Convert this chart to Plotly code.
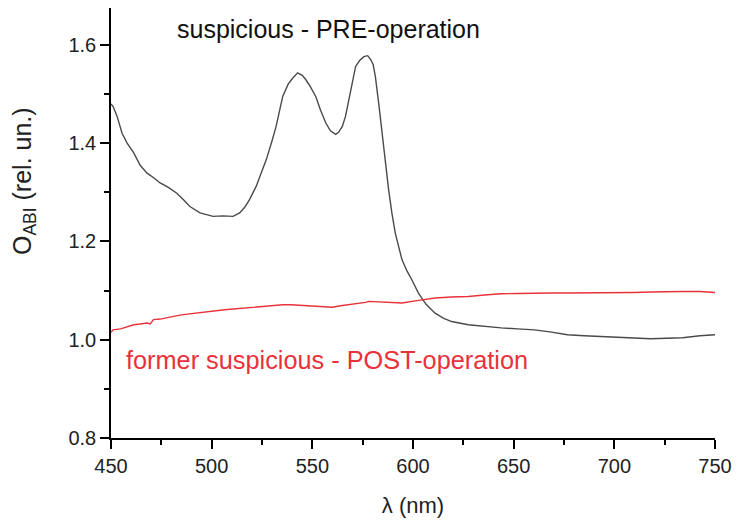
import plotly.graph_objects as go

# Pre-operation spectrum (dark grey)
pre_wavelength = [450, 451, 453, 455.5, 458, 461.3, 464.5, 467.9, 471, 474.4, 478.5, 482.7, 486, 489.2, 494.2,
                  500.7, 505.5, 510.6, 513.9, 516.5, 518.8, 522.1, 524.5, 527.1, 530, 532.0, 535.3, 538, 540.2,
                  542.7, 545, 546.8, 549, 551.7, 554, 556.7, 559, 561.6, 563, 564.9, 566.5, 568.2, 570,
                  571.5, 573.5, 575.6, 577.5, 579, 580.2, 581.3, 583, 584.6, 586.3, 587.9, 589.5, 591.2,
                  594.5, 597, 599.4, 602.7, 606.5, 611, 615, 619.2, 627.4, 635, 643.8, 652, 660.3, 668,
                  676.7, 685, 693.2, 701, 709.6, 718, 726, 734, 742.5, 750]
pre_value = [1.48, 1.475, 1.455, 1.42, 1.40, 1.38, 1.355, 1.339, 1.33, 1.319, 1.31, 1.298, 1.285, 1.271, 1.258,
             1.251, 1.252, 1.251, 1.258, 1.27, 1.285, 1.312, 1.338, 1.366, 1.405, 1.434, 1.495, 1.52, 1.532,
             1.543, 1.538, 1.529, 1.515, 1.495, 1.468, 1.441, 1.425, 1.418, 1.422, 1.434, 1.455, 1.488, 1.525,
             1.556, 1.568, 1.576, 1.578, 1.57, 1.56, 1.536, 1.48, 1.42, 1.36, 1.305, 1.258, 1.217,
             1.163, 1.14, 1.122, 1.095, 1.072, 1.054, 1.044, 1.037, 1.0305, 1.027, 1.024, 1.022, 1.020, 1.016,
             1.010, 1.008, 1.0068, 1.005, 1.003, 1.002, 1.003, 1.004, 1.008, 1.010]

# Post-operation spectrum (red)
post_wavelength = [450, 451, 454.7, 458, 461.3, 464.5, 467.9, 469.5, 471.1, 474.5, 477.7, 481.8, 485.9, 490,
                   494.2, 498.3, 502.4, 506.5, 510.6, 514.7, 518.8, 523, 527.1, 531.2, 535.3, 539.4, 543.5,
                   547.6, 551.7, 555.8, 559.9, 564, 568.2, 572.3, 576.4, 578, 586, 594.5, 602.7, 611, 619,
                   627.4, 635.5, 643.8, 652, 660.3, 668.5, 676.7, 685, 693, 701.3, 709.6, 718, 726, 734,
                   742.5, 750]
post_value = [1.015, 1.020, 1.022, 1.026, 1.0305, 1.032, 1.034, 1.032, 1.041, 1.042, 1.044, 1.048, 1.051, 1.053,
              1.0556, 1.058, 1.060, 1.061, 1.0624, 1.064, 1.0658, 1.067, 1.069, 1.070, 1.071, 1.071, 1.070,
              1.069, 1.068, 1.067, 1.066, 1.069, 1.071, 1.074, 1.0760, 1.078, 1.076, 1.0746, 1.080, 1.085, 1.087,
              1.088, 1.091, 1.0936, 1.094, 1.095, 1.095, 1.095, 1.095, 1.095, 1.096, 1.096, 1.097, 1.098, 1.098,
              1.098, 1.096]

FONT = "Liberation Sans, Arial, sans-serif"

fig = go.Figure()
fig.add_trace(go.Scatter(x=pre_wavelength, y=pre_value, mode="lines",
                         line=dict(color="#4a4a4a", width=1.4), showlegend=False))
fig.add_trace(go.Scatter(x=post_wavelength, y=post_value, mode="lines",
                         line=dict(color="#e8323a", width=1.4), showlegend=False))

axis_common = dict(showline=True, linecolor="black", linewidth=1.6, ticks="outside",
                   ticklen=9, tickwidth=1.6, tickcolor="black", showgrid=False, zeroline=False,
                   tickfont=dict(family=FONT, size=20, color="#222"))

fig.update_xaxes(range=[450, 750], tick0=450, dtick=50,
                 minor=dict(ticks="outside", ticklen=5, tickwidth=1.6, tickcolor="black", dtick=25,
                            tick0=450, showgrid=False),
                 title=dict(text="λ (nm)", font=dict(family=FONT, size=22, color="#222"), standoff=22),
                 **axis_common)
fig.update_yaxes(range=[0.8, 1.675], tick0=0.8, dtick=0.2, tickformat=".1f",
                 minor=dict(ticks="outside", ticklen=5, tickwidth=1.6, tickcolor="black", dtick=0.1,
                            tick0=0.8, showgrid=False),
                 **axis_common)

fig.add_annotation(xref="paper", yref="paper", x=(23 - 110.5) / 608, y=1 - (181 - 8) / 430, textangle=-90,
                   text="O<sub>ABI</sub> (rel. un.)", showarrow=False,
                   font=dict(family=FONT, size=25, color="#222"), xanchor="center", yanchor="middle")
fig.add_annotation(xref="paper", yref="paper", x=(175 - 110.5) / 608, y=1 - (29 - 8) / 430,
                   text="suspicious - PRE-operation", showarrow=False, xanchor="left", yanchor="middle",
                   font=dict(family=FONT, size=25, color="#111"))
fig.add_annotation(xref="paper", yref="paper", x=(124 - 110.5) / 608, y=1 - (360 - 8) / 430,
                   text="former suspicious - POST-operation", showarrow=False, xanchor="left",
                   yanchor="middle", font=dict(family=FONT, size=25.3, color="#e8323a"))

fig.update_layout(width=740, height=524, margin=dict(l=110.5, r=21.5, t=8, b=86),
                  plot_bgcolor="white", paper_bgcolor="white", showlegend=False)

fig.write_html("out.html")
